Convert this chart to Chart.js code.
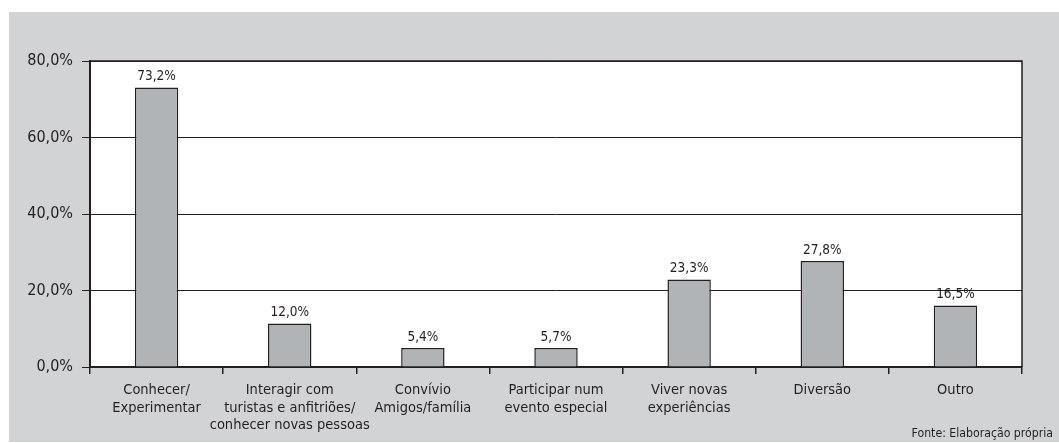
<!DOCTYPE html>
<html>
<head>
<meta charset="utf-8">
<script src="https://cdn.jsdelivr.net/npm/chart.js@4/dist/chart.umd.min.js"></script>
<style>
  html, body { margin: 0; padding: 0; background: #ffffff; }
  #wrap { position: absolute; left: 9px; top: 12px; width: 1050px; height: 430px; background: #d1d3d4; }
  #c { display: block; }
  #src { position: absolute; right: 6px; bottom: 2px; font-family: 'DejaVu Sans Condensed', 'DejaVu Sans', sans-serif; font-stretch: condensed; font-size: 12.2px; color: #231f20; }
</style>
</head>
<body>
<div id="wrap">
  <canvas id="c" width="1050" height="430"></canvas>
  <div id="src">Fonte: Elaboração própria</div>
</div>
<script>
const categories = [
  ['Conhecer/', 'Experimentar'],
  ['Interagir com', 'turistas e anfitriões/', 'conhecer novas pessoas'],
  ['Convívio', 'Amigos/família'],
  ['Participar num', 'evento especial'],
  ['Viver novas', 'experiências'],
  'Diversão',
  'Outro'
];
// bar heights as drawn in the picture
const barValues = [73.1, 11.4, 5.0, 5.0, 22.9, 27.7, 16.1];
// value labels as printed above the bars
const valueLabels = ['73,2%', '12,0%', '5,4%', '5,7%', '23,3%', '27,8%', '16,5%'];
const yTickValues = [0, 20, 40, 60, 80];
const yTickLabels = ['0,0%', '20,0%', '40,0%', '60,0%', '80,0%'];

const FONT = "'DejaVu Sans Condensed', 'Liberation Sans Narrow', sans-serif";
const TXT = '#231f20';

const plotBg = {
  id: 'plotBg',
  beforeDraw(chart) {
    const { ctx, chartArea: a } = chart;
    ctx.save();
    ctx.fillStyle = '#ffffff';
    ctx.fillRect(a.left, a.top, a.right - a.left, a.bottom - a.top);
    ctx.restore();
  }
};

const frame = {
  id: 'frame',
  afterDraw(chart) {
    const { ctx, chartArea: a } = chart;
    ctx.save();
    ctx.strokeStyle = '#231f20';
    ctx.lineWidth = 1.5;
    ctx.beginPath();
    ctx.moveTo(a.left, a.top);
    ctx.lineTo(a.right, a.top);
    ctx.lineTo(a.right, a.bottom);
    ctx.stroke();
    ctx.restore();
  }
};

const valueText = {
  id: 'valueText',
  afterDatasetsDraw(chart) {
    const { ctx } = chart;
    const meta = chart.getDatasetMeta(0);
    ctx.save();
    ctx.font = '13.5px ' + FONT;
    ctx.fillStyle = TXT;
    ctx.textAlign = 'center';
    ctx.textBaseline = 'bottom';
    meta.data.forEach((bar, i) => {
      ctx.fillText(valueLabels[i], bar.x, bar.y - 4);
    });
    ctx.restore();
  }
};

new Chart(document.getElementById('c'), {
  type: 'bar',
  data: {
    labels: categories,
    datasets: [{
      data: barValues,
      backgroundColor: '#b1b4b6',
      borderColor: '#231f20',
      borderWidth: 1.5,
      categoryPercentage: 1,
      barPercentage: 0.326
    }]
  },
  options: {
    responsive: false,
    animation: false,
    layout: { padding: { top: 49, right: 37, left: 0, bottom: 0 } },
    plugins: { legend: { display: false }, tooltip: { enabled: false } },
    scales: {
      x: {
        afterFit(s) { s.height = 75; },
        grid: { offset: true, drawOnChartArea: false, drawTicks: true, tickLength: 7, color: '#231f20', lineWidth: 1.5 },
        border: { display: true, color: '#231f20', width: 2 },
        ticks: { color: TXT, font: { family: FONT, size: 14.5, lineHeight: 1.2 }, padding: 8, maxRotation: 0, minRotation: 0, autoSkip: false }
      },
      y: {
        min: 0, max: 80,
        afterFit(s) { s.width = 81; },
        afterBuildTicks(s) { s.ticks = yTickValues.map(v => ({ value: v })); },
        grid: { drawTicks: true, tickLength: 8, color: '#231f20', lineWidth: 1 },
        border: { display: true, color: '#231f20', width: 2 },
        ticks: {
          color: TXT, font: { family: FONT, size: 16 }, padding: 9,
          callback: (v) => yTickLabels[yTickValues.indexOf(v)]
        }
      }
    }
  },
  plugins: [plotBg, frame, valueText]
});
</script>
</body>
</html>
